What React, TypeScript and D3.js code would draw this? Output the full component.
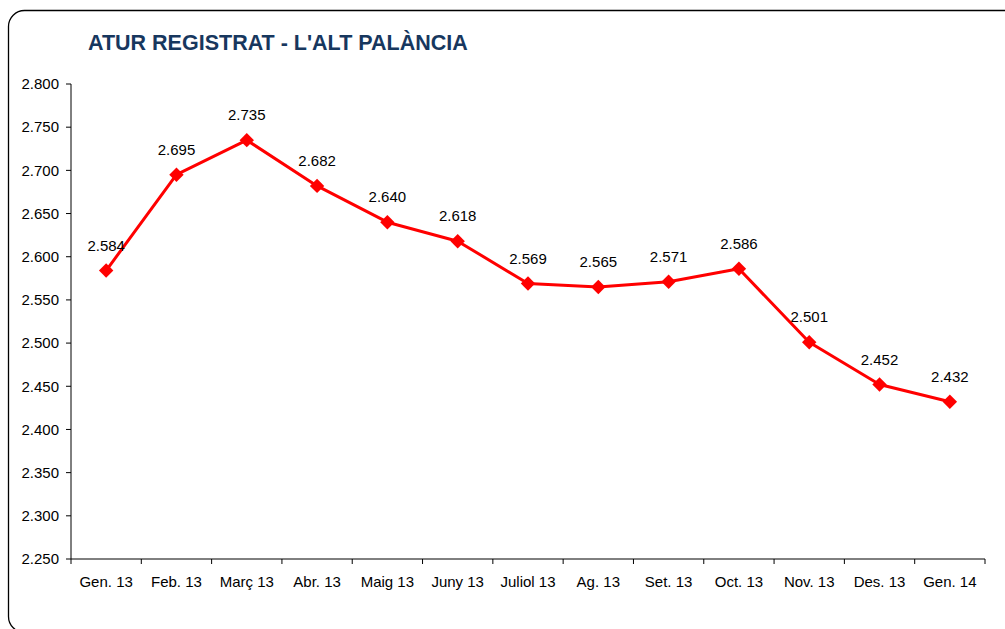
import React from "react";
import * as d3 from "d3";

const categories = ["Gen. 13", "Feb. 13", "Març 13", "Abr. 13", "Maig 13", "Juny 13", "Juliol 13", "Ag. 13", "Set. 13", "Oct. 13", "Nov. 13", "Des. 13", "Gen. 14"];
const values = [2584, 2695, 2735, 2682, 2640, 2618, 2569, 2565, 2571, 2586, 2501, 2452, 2432];
const yTicks = [2250, 2300, 2350, 2400, 2450, 2500, 2550, 2600, 2650, 2700, 2750, 2800];
const title = "ATUR REGISTRAT - L'ALT PALÀNCIA";

const fmt = (v: number) => {
  const s = String(Math.round(v));
  return s.replace(/\B(?=(\d{3})+(?!\d))/g, ".");
};

export default function App() {
  const W = 1005, H = 629;
  const left = 71, right = 985, top = 84, bottom = 559;
  const x = d3.scaleBand<string>().domain(categories).range([left, right]).paddingInner(0).paddingOuter(0);
  const y = d3.scaleLinear().domain([2250, 2800]).range([bottom, top]);
  const cx = (c: string) => (x(c) as number) + x.bandwidth() / 2;
  const line = d3.line<number>().x((_, i) => cx(categories[i])).y((d) => y(d));
  const font = "'Liberation Sans', Arial, sans-serif";
  const bounds = categories.map((c) => x(c) as number).concat([right]);

  return (
    <svg width={W} height={H} style={{ position: "absolute", left: 0, top: 0, background: "#fff" }} fontFamily={font}>
      <rect x={8.5} y={10.5} width={1020} height={622} rx={16} ry={16} fill="#fff" stroke="#000" strokeWidth={1.3} />
      <text x={88} y={50} fontSize={21.5} fontWeight="bold" fill="#17375E">{title}</text>
      {/* y axis */}
      <line x1={left} x2={left} y1={top} y2={bottom} stroke="#000" strokeWidth={1} />
      {yTicks.map((t) => (
        <g key={t}>
          <line x1={left - 5} x2={left} y1={y(t)} y2={y(t)} stroke="#000" strokeWidth={1} />
          <text x={left - 12} y={y(t)} dy="0.35em" textAnchor="end" fontSize={15} fill="#000">{fmt(t)}</text>
        </g>
      ))}
      {/* x axis */}
      <line x1={left} x2={right} y1={bottom} y2={bottom} stroke="#000" strokeWidth={1} />
      {bounds.map((b, i) => (
        <line key={i} x1={b} x2={b} y1={bottom} y2={bottom + 5} stroke="#000" strokeWidth={1} />
      ))}
      {categories.map((c) => (
        <text key={c} x={cx(c)} y={582} dy="0.35em" textAnchor="middle" fontSize={15} fill="#000">{c}</text>
      ))}
      <path d={line(values) || ""} fill="none" stroke="#FF0000" strokeWidth={3} strokeLinejoin="round" />
      {values.map((v, i) => {
        const px = cx(categories[i]), py = y(v);
        const s = 7.2;
        return (
          <g key={i}>
            <path d={`M${px},${py - s}L${px + s},${py}L${px},${py + s}L${px - s},${py}Z`} fill="#FF0000" />
            <text x={px} y={py - 20} textAnchor="middle" fontSize={15} fill="#000">{fmt(v)}</text>
          </g>
        );
      })}
    </svg>
  );
}
